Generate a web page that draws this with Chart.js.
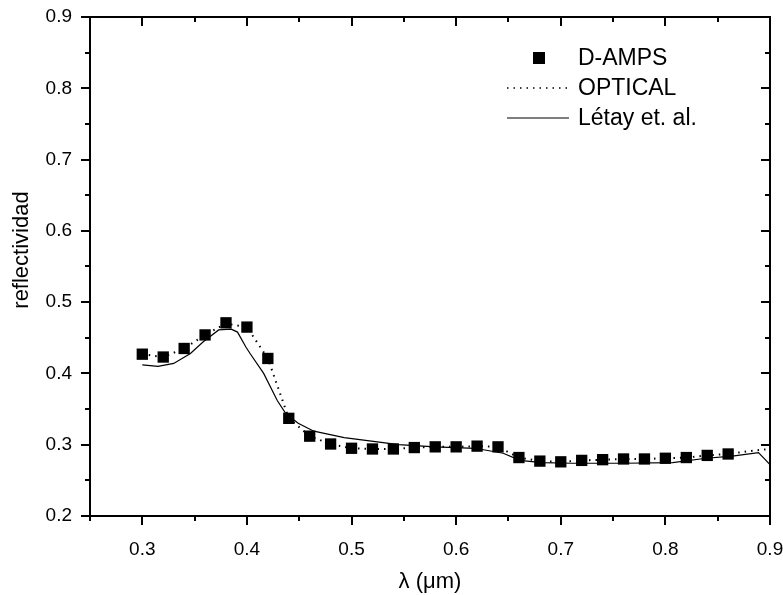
<!DOCTYPE html>
<html>
<head>
<meta charset="utf-8">
<script src="https://cdn.jsdelivr.net/npm/chart.js@4.4.0/dist/chart.umd.min.js"></script>
<style>
  html, body { margin: 0; padding: 0; background: #fff; }
</style>
</head>
<body>
<canvas id="chart" width="783" height="595"></canvas>
<script>
// D-AMPS points (squares)
const dampsX = [0.30, 0.32, 0.34, 0.36, 0.38, 0.40, 0.42, 0.44, 0.46, 0.48, 0.50, 0.52, 0.54, 0.56, 0.58,
                0.60, 0.62, 0.64, 0.66, 0.68, 0.70, 0.72, 0.74, 0.76, 0.78, 0.80, 0.82, 0.84, 0.86];
const dampsY = [0.427, 0.423, 0.435, 0.454, 0.471, 0.465, 0.421, 0.337, 0.312, 0.301, 0.295, 0.294, 0.294, 0.296, 0.297,
                0.297, 0.298, 0.297, 0.282, 0.277, 0.276, 0.278, 0.279, 0.280, 0.280, 0.281, 0.282, 0.285, 0.287];

// OPTICAL (dotted line)
const opticalX = [0.30, 0.32, 0.34, 0.36, 0.38, 0.40, 0.42, 0.44, 0.46, 0.48, 0.50, 0.52, 0.54, 0.56, 0.58,
                  0.60, 0.62, 0.64, 0.66, 0.68, 0.70, 0.72, 0.74, 0.76, 0.78, 0.80, 0.82, 0.84, 0.86, 0.88, 0.90];
const opticalY = [0.427, 0.423, 0.435, 0.454, 0.470, 0.465, 0.421, 0.337, 0.312, 0.301, 0.295, 0.294, 0.294, 0.296, 0.297,
                  0.297, 0.298, 0.297, 0.282, 0.277, 0.276, 0.278, 0.279, 0.280, 0.280, 0.281, 0.282, 0.285, 0.287, 0.291, 0.294];

// Letay et. al. (solid line)
const letayX = [0.300, 0.315, 0.330, 0.346, 0.358, 0.373, 0.385, 0.391, 0.399, 0.403, 0.416, 0.429, 0.437, 0.449,
                0.464, 0.493, 0.519, 0.545, 0.580, 0.618, 0.645, 0.661, 0.682, 0.711, 0.760, 0.807, 0.839, 0.864,
                0.889, 0.900];
const letayY = [0.412, 0.410, 0.414, 0.428, 0.444, 0.461, 0.462, 0.458, 0.437, 0.428, 0.400, 0.362, 0.344, 0.330,
                0.319, 0.310, 0.305, 0.300, 0.297, 0.295, 0.288, 0.278, 0.275, 0.274, 0.274, 0.275, 0.281, 0.284,
                0.289, 0.272];

const legendLabels = ['D-AMPS', 'OPTICAL', 'L\u00e9tay et. al.'];
const xTitle = '\u03bb (\u03bcm)';
const yTitle = 'reflectividad';

const toPoints = (xs, ys) => xs.map((x, i) => ({ x: x, y: ys[i] }));

Chart.defaults.font.family = "'Liberation Sans', Arial, sans-serif";
Chart.defaults.color = '#000';

// frame, ticks on all four sides, legend and y title
const framePlugin = {
  id: 'framePlugin',
  afterDraw(chart) {
    const ctx = chart.ctx;
    const a = chart.chartArea;
    const xs = chart.scales.x;
    const ys = chart.scales.y;
    ctx.save();
    ctx.strokeStyle = '#000';
    ctx.lineWidth = 2;
    ctx.strokeRect(a.left, a.top, a.right - a.left, a.bottom - a.top);

    ctx.lineWidth = 2;
    ctx.beginPath();
    xs.ticks.forEach((t, i) => {
      const px = Math.round(xs.getPixelForValue(t.value));
      const len = i % 2 === 1 ? 9 : 5;
      ctx.moveTo(px, a.bottom); ctx.lineTo(px, a.bottom + len);
      ctx.moveTo(px, a.top); ctx.lineTo(px, a.top + len);
    });
    ys.ticks.forEach((t, i) => {
      const py = Math.round(ys.getPixelForValue(t.value));
      const len = i % 2 === 0 ? 9 : 5;
      ctx.moveTo(a.left, py); ctx.lineTo(a.left - len, py);
      ctx.moveTo(a.right, py); ctx.lineTo(a.right - len, py);
    });
    ctx.stroke();

    // legend
    ctx.fillStyle = '#000';
    ctx.font = "23px 'Liberation Sans', Arial, sans-serif";
    ctx.textBaseline = 'middle';
    ctx.textAlign = 'left';
    const lx = 507, lx2 = 569, tx = 578;
    const rows = [58, 88, 118];
    ctx.fillRect(533, rows[0] - 6, 12, 12);
    ctx.lineWidth = 1.3;
    ctx.setLineDash([1.5, 5]);
    ctx.beginPath(); ctx.moveTo(lx, rows[1]); ctx.lineTo(lx2, rows[1]); ctx.stroke();
    ctx.setLineDash([]);
    ctx.lineWidth = 1.2;
    ctx.beginPath(); ctx.moveTo(lx, rows[2]); ctx.lineTo(lx2, rows[2]); ctx.stroke();
    legendLabels.forEach((s, i) => ctx.fillText(s, tx, rows[i] + 1));

    // y axis title
    ctx.font = "22px 'Liberation Sans', Arial, sans-serif";
    ctx.textAlign = 'center';
    ctx.translate(22, 250);
    ctx.rotate(-Math.PI / 2);
    ctx.fillText(yTitle, 0, 0);
    ctx.restore();
  }
};

const ctx = document.getElementById('chart').getContext('2d');
new Chart(ctx, {
  type: 'scatter',
  data: {
    datasets: [
      {
        label: legendLabels[2],
        data: toPoints(letayX, letayY),
        showLine: true,
        borderColor: '#000',
        borderWidth: 1.2,
        pointRadius: 0,
        tension: 0
      },
      {
        label: legendLabels[1],
        data: toPoints(opticalX, opticalY),
        showLine: true,
        borderColor: '#000',
        borderWidth: 2,
        borderDash: [1.5, 5],
        pointRadius: 0,
        tension: 0
      },
      {
        label: legendLabels[0],
        data: toPoints(dampsX, dampsY),
        showLine: false,
        pointStyle: 'rect',
        pointRadius: 8,
        backgroundColor: '#000',
        borderColor: '#000',
        borderWidth: 0
      }
    ]
  },
  options: {
    responsive: false,
    animation: false,
    devicePixelRatio: 1,
    layout: { padding: { top: 17, right: 13, left: 0, bottom: 0 } },
    plugins: {
      legend: { display: false },
      tooltip: { enabled: false }
    },
    scales: {
      x: {
        type: 'linear',
        min: 0.25,
        max: 0.9,
        grid: { display: false, drawTicks: false },
        border: { display: false },
        ticks: {
          stepSize: 0.05,
          autoSkip: false,
          maxRotation: 0,
          padding: 22,
          font: { size: 19 },
          callback: (v, i) => (i % 2 === 1 ? v.toFixed(1) : '')
        },
        title: {
          display: true,
          text: xTitle,
          font: { size: 22 },
          padding: { top: 3, bottom: 0 }
        },
        afterFit: (s) => { s.height = 79; s.paddingLeft = 0; s.paddingRight = 0; }
      },
      y: {
        type: 'linear',
        min: 0.2,
        max: 0.9,
        grid: { display: false, drawTicks: false },
        border: { display: false },
        ticks: {
          stepSize: 0.05,
          autoSkip: false,
          padding: 18,
          font: { size: 19 },
          callback: (v, i) => (i % 2 === 0 ? v.toFixed(1) : '')
        },
        afterFit: (s) => { s.width = 90; s.paddingTop = 0; s.paddingBottom = 0; }
      }
    }
  },
  plugins: [framePlugin]
});
</script>
</body>
</html>
